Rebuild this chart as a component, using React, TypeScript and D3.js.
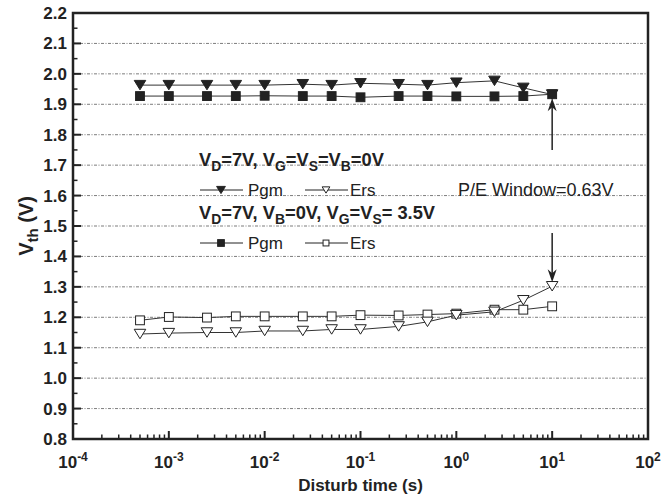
import React from "react";
import * as d3 from "d3";

// disturb time (s)
const times = [5e-4, 1e-3, 2.5e-3, 5e-3, 1e-2, 2.5e-2, 5e-2, 0.1, 0.25, 0.5, 1, 2.5, 5, 10];
// VD=7V, VG=VS=VB=0V
const pgmA = [1.963, 1.963, 1.963, 1.963, 1.963, 1.966, 1.963, 1.969, 1.966, 1.963, 1.971, 1.977, 1.954, 1.932];
const ersA = [1.145, 1.148, 1.15, 1.15, 1.155, 1.155, 1.16, 1.16, 1.17, 1.185, 1.207, 1.218, 1.256, 1.302];
// VD=7V, VB=0V, VG=VS=3.5V
const pgmB = [1.927, 1.927, 1.927, 1.927, 1.928, 1.927, 1.927, 1.923, 1.927, 1.927, 1.926, 1.926, 1.927, 1.933];
const ersB = [1.19, 1.201, 1.199, 1.203, 1.203, 1.203, 1.203, 1.207, 1.206, 1.209, 1.212, 1.225, 1.225, 1.236];

const xDecades = [-4, -3, -2, -1, 0, 1, 2];
const yTicks = [0.8, 0.9, 1.0, 1.1, 1.2, 1.3, 1.4, 1.5, 1.6, 1.7, 1.8, 1.9, 2.0, 2.1, 2.2];
const gridVals = [0.9, 1.0, 1.1, 1.2, 1.3, 1.4, 1.5, 1.6, 1.7, 1.8, 1.9, 2.0, 2.1];

const W = 665, H = 495;
const left = 73, right = 648, top = 13, bottom = 439;
const font = "Arial, 'Liberation Sans', Helvetica, sans-serif";
const ink = "#222";

const x = d3.scaleLog().domain([1e-4, 1e2]).range([left, right]);
const y = d3.scaleLinear().domain([0.8, 2.2]).range([bottom, top]);

type Kind = "triDown" | "triDownOpen" | "sq" | "sqOpen";

function marker(kind: Kind, cx: number, cy: number, s: number, key?: any) {
  if (kind === "sq" || kind === "sqOpen") {
    const h = s * 0.42;
    return (
      <rect key={key} x={cx - h} y={cy - h} width={2 * h} height={2 * h}
        fill={kind === "sq" ? ink : "#fff"} stroke={ink} strokeWidth={1} />
    );
  }
  const hw = s * 0.55, hh = s * 0.45;
  const p = `M${cx - hw},${cy - hh}L${cx + hw},${cy - hh}L${cx},${cy + hh}Z`;
  return <path key={key} d={p} fill={kind === "triDown" ? ink : "#fff"} stroke={ink} strokeWidth={1} />;
}

function Series({ vals, kind }: { vals: number[]; kind: Kind }) {
  const line = d3.line<number>().x((_, i) => x(times[i])).y((v) => y(v));
  return (
    <g>
      <path d={line(vals) || ""} fill="none" stroke="#333" strokeWidth={1} />
      {vals.map((v, i) => marker(kind, x(times[i]), y(v), 10.5, i))}
    </g>
  );
}

function Sub({ parts, xPos, yPos, size }: { parts: [string, boolean][]; xPos: number; yPos: number; size: number }) {
  return (
    <text x={xPos} y={yPos} fontFamily={font} fontWeight="bold" fontSize={size} fill={ink}>
      {parts.map(([t, sub], i) => (
        <tspan key={i} dy={sub ? 5 : i > 0 && parts[i - 1][1] ? -5 : 0} fontSize={sub ? size * 0.76 : size}>{t}</tspan>
      ))}
    </text>
  );
}

function LegendRow({ yPos, k1, k2 }: { yPos: number; k1: Kind; k2: Kind }) {
  return (
    <g>
      <line x1={200} x2={243} y1={yPos} y2={yPos} stroke={ink} strokeWidth={1} />
      {marker(k1, 221, yPos, 8)}
      <text x={248} y={yPos + 6} fontFamily={font} fontSize={17} fill={ink}>Pgm</text>
      <line x1={305} x2={348} y1={yPos} y2={yPos} stroke={ink} strokeWidth={1} />
      {marker(k2, 326, yPos, 7)}
      <text x={350} y={yPos + 6} fontFamily={font} fontSize={17} fill={ink}>Ers</text>
    </g>
  );
}

export default function App() {
  const minorX: number[] = [];
  xDecades.slice(0, -1).forEach((d) => {
    for (let m = 2; m <= 9; m++) minorX.push(m * Math.pow(10, d));
  });
  const minorY = yTicks.slice(0, -1).map((v) => v + 0.05);

  return (
    <svg width={W} height={H} style={{ position: "absolute", left: 0, top: 0, background: "#fff" }}>
      {/* grid */}
      {gridVals.map((v) => (
        <line key={v} x1={left} x2={right} y1={y(v)} y2={y(v)} stroke="#444" strokeWidth={0.7}
          strokeDasharray="3,1.5,1,1.5" />
      ))}

      {/* series */}
      <Series vals={ersB} kind="sqOpen" />
      <Series vals={ersA} kind="triDownOpen" />
      <Series vals={pgmA} kind="triDown" />
      <Series vals={pgmB} kind="sq" />

      {/* axis ticks */}
      {xDecades.map((d) => (
        <line key={d} x1={x(Math.pow(10, d))} x2={x(Math.pow(10, d))} y1={bottom} y2={bottom - 8} stroke={ink} strokeWidth={2} />
      ))}
      {minorX.map((v, i) => (
        <line key={i} x1={x(v)} x2={x(v)} y1={bottom} y2={bottom - 4.5} stroke={ink} strokeWidth={1.5} />
      ))}
      {yTicks.map((v) => (
        <line key={v} x1={left} x2={left + 8} y1={y(v)} y2={y(v)} stroke={ink} strokeWidth={2} />
      ))}
      {minorY.map((v, i) => (
        <line key={i} x1={left} x2={left + 4.5} y1={y(v)} y2={y(v)} stroke={ink} strokeWidth={1.5} />
      ))}
      <rect x={left} y={top} width={right - left} height={bottom - top} fill="none" stroke={ink} strokeWidth={2.5} />

      {/* tick labels */}
      {yTicks.map((v) => (
        <text key={v} x={67} y={y(v) + 6} textAnchor="end" fontFamily={font} fontWeight="bold" fontSize={17} fill={ink}>
          {v.toFixed(1)}
        </text>
      ))}
      {xDecades.map((d) => (
        <text key={d} x={x(Math.pow(10, d))} y={468} textAnchor="middle" fontFamily={font} fontWeight="bold" fontSize={17} fill={ink}>
          10<tspan dy={-7} fontSize={12}>{d}</tspan>
        </text>
      ))}

      {/* axis titles */}
      <text x={(left + right) / 2} y={491} textAnchor="middle" fontFamily={font} fontWeight="bold" fontSize={17} fill={ink}>
        Disturb time (s)
      </text>
      <text transform={`translate(33,${(top + bottom) / 2}) rotate(-90)`} textAnchor="middle" fontFamily={font}
        fontWeight="bold" fontSize={20} fill={ink}>
        V<tspan dy={5} fontSize={15}>th</tspan><tspan dy={-5}> (V)</tspan>
      </text>

      {/* legend */}
      <Sub xPos={199} yPos={166} size={18.3}
        parts={[["V", false], ["D", true], ["=7V, V", false], ["G", true], ["=V", false], ["S", true], ["=V", false], ["B", true], ["=0V", false]]} />
      <LegendRow yPos={190} k1="triDown" k2="triDownOpen" />
      <Sub xPos={199} yPos={219} size={18.3}
        parts={[["V", false], ["D", true], ["=7V, V", false], ["B", true], ["=0V, V", false], ["G", true], ["=V", false], ["S", true], ["= 3.5V", false]]} />
      <LegendRow yPos={243} k1="sq" k2="sqOpen" />

      {/* P/E window annotation */}
      <text x={458} y={196} fontFamily={font} fontSize={18} fill={ink}>P/E Window=0.63V</text>
      <line x1={x(10)} x2={x(10)} y1={150} y2={104} stroke={ink} strokeWidth={1.5} />
      <path d={`M${x(10)},${y(1.933) + 4}l-4.5,13l4.5,-4l4.5,4Z`} fill={ink} />
      <line x1={x(10)} x2={x(10)} y1={233} y2={276} stroke={ink} strokeWidth={1.5} />
      <path d={`M${x(10)},${y(1.302) - 4}l-4.5,-13l4.5,4l4.5,-4Z`} fill={ink} />
    </svg>
  );
}
